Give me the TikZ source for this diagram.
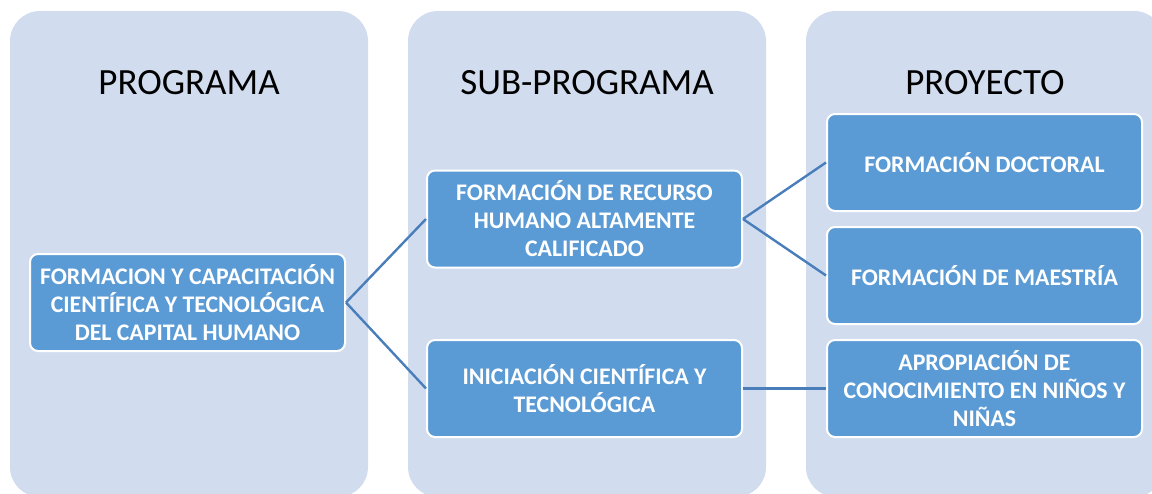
\documentclass[tikz,border=0pt]{standalone}
\usepackage{fontspec}
\setmainfont{Carlito}
\definecolor{fondo}{HTML}{D1DDEF}
\definecolor{azul}{HTML}{5B9BD5}
\definecolor{linea}{HTML}{4A7EBB}
\begin{document}
\begin{tikzpicture}[x=1pt,y=-1pt,line join=round,
    col/.style={fill=fondo,rounded corners=30pt},
    titulo/.style={font=\fontsize{37}{44}\selectfont},
    caja/.style={draw=white,line width=2pt,fill=azul,rounded corners=8pt,minimum width=315pt,minimum height=97pt,inner sep=0pt,align=center,text=white,font=\fontsize{23.8}{28}\selectfont\bfseries},
    enlace/.style={draw=linea,line width=2.4pt}]
    \useasboundingbox (0,0) rectangle (1152,493);
    \clip (0,0) rectangle (1152,493);
    % columnas
    \fill[col] (10,11) rectangle (368,497);
    \fill[col] (408,11) rectangle (766,497);
    \fill[col] (806,11) rectangle (1164,497);
    \node[titulo] (tprog) at (189,83) {PROGRAMA};
    \node[titulo] (tsub) at (587,83) {SUB-PROGRAMA};
    \node[titulo] (tproy) at (985,83) {PROYECTO};
    % cajas
    \node[caja] (prog) at (187.5,302.5) {FORMACION Y CAPACITACIÓN\\CIENTÍFICA Y TECNOLÓGICA\\DEL CAPITAL HUMANO};
    \node[caja] (sub1) at (584.5,219) {FORMACIÓN DE RECURSO\\HUMANO ALTAMENTE\\CALIFICADO};
    \node[caja] (sub2) at (584.5,388.5) {INICIACIÓN CIENTÍFICA Y\\TECNOLÓGICA};
    \node[caja] (pr1) at (984.5,162.5) {FORMACIÓN DOCTORAL};
    \node[caja] (pr2) at (984.5,275.5) {FORMACIÓN DE MAESTRÍA};
    \node[caja] (pr3) at (984.5,388.5) {APROPIACIÓN DE\\CONOCIMIENTO EN NIÑOS Y\\NIÑAS};
    % enlaces
    \draw[enlace] (prog.east) -- (sub1.west);
    \draw[enlace] (prog.east) -- (sub2.west);
    \draw[enlace] (sub1.east) -- (pr1.west);
    \draw[enlace] (sub1.east) -- (pr2.west);
    \draw[enlace] (sub2.east) -- (pr3.west);
\end{tikzpicture}
\end{document}
